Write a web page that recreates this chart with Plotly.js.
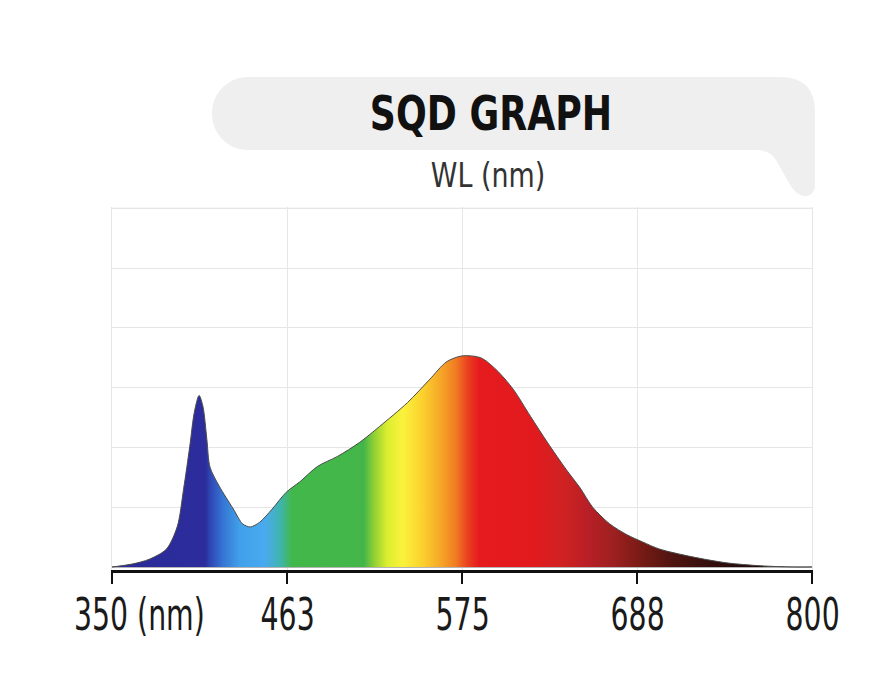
<!DOCTYPE html>
<html>
<head>
<meta charset="utf-8">
<script src="https://cdn.plot.ly/plotly-3.0.1.min.js"></script>
<style>html,body{margin:0;padding:0;background:#fff;}#chart{width:870px;height:700px;}</style>
</head>
<body>
<div id="chart"></div>
<script>
// ---- data ----
const wavelength = [350, 363, 374, 385, 392, 396, 400, 403, 406, 408.5, 411, 413, 419, 428, 434, 439, 445, 453, 462, 471, 482, 495, 509, 522, 540, 554, 565, 575, 587, 597, 608, 619, 630, 642, 651, 659, 670, 681, 691, 702, 723, 745, 767, 788, 800];
const intensity  = [0, 0.05, 0.13, 0.30, 0.68, 1.30, 2.02, 2.60, 2.87, 2.68, 2.13, 1.67, 1.35, 0.97, 0.72, 0.67, 0.75, 0.97, 1.25, 1.43, 1.68, 1.85, 2.08, 2.35, 2.75, 3.13, 3.43, 3.53, 3.50, 3.30, 2.97, 2.52, 2.08, 1.63, 1.32, 1.00, 0.72, 0.54, 0.42, 0.30, 0.17, 0.07, 0.02, 0.00, 0];
const tickValues = [350, 462.5, 575, 687.5, 800];
const tickLabels = ['350 (nm)', '463', '575', '688', '800'];
const gridTop = 6;
const chartTitle = 'SQD GRAPH';
const chartSubtitle = 'WL (nm)';
// spectrum colours by wavelength (nm)
const specNm = [350, 410, 413, 421, 432, 448, 458, 466, 512, 519, 527, 537, 550, 562, 571, 579, 586, 620, 640, 656, 672, 692, 712, 745, 800];
const specCol = ['#2b2a98', '#2c2c9c', '#2f45b4', '#3574d2', '#40a0ea', '#4aaaf0', '#3fb4b0', '#42b84a', '#44b649', '#96d232', '#dcee30', '#fbf23c', '#fbd02d', '#f6a428', '#f07c22', '#ea3e20', '#e51b1e', '#e21a1e', '#d02222', '#b81f26', '#9e2020', '#741a14', '#4c1410', '#2a0c0c', '#140808'];

const NM0 = 350, NM1 = 800;
const colorscale = specNm.map((n, i) => [(n - NM0) / (NM1 - NM0), specCol[i]]);

// plot area in pixels
const L = 112, R = 812, T = 207, B = 570, W = 870, H = 700;
const px2x = p => (p - L) / (R - L);
const py2y = p => (B - p) / (B - T);

const cond = '"DejaVu Sans Condensed", "DejaVu Sans", sans-serif';

// title box shape (pixel path converted to paper coords)
function P(x, y) { return px2x(x).toFixed(5) + ',' + py2y(y).toFixed(5); }
const boxPath = 'M' + P(248, 77) + ' L' + P(780, 77) + ' Q' + P(815, 77) + ' ' + P(815, 112) +
  ' L' + P(815, 184) + ' Q' + P(815, 197) + ' ' + P(803, 196) + ' Q' + P(795, 194) + ' ' + P(789, 183) +
  ' L' + P(776, 160) + ' Q' + P(770, 150) + ' ' + P(756, 150) + ' L' + P(248, 150) +
  ' C' + P(228, 150) + ' ' + P(212, 134) + ' ' + P(212, 113.5) + ' C' + P(212, 93) + ' ' + P(228, 77) + ' ' + P(248, 77) + ' Z';

const traces = [
  {
    type: 'scatter', mode: 'lines', x: wavelength, y: intensity,
    line: {shape: 'spline', smoothing: 0.8, color: '#4a4a4a', width: 1},
    fill: 'tozeroy',
    fillgradient: {type: 'horizontal', start: NM0, stop: NM1, colorscale: colorscale},
    hoverinfo: 'skip', showlegend: false
  },
  {
    type: 'scatter', mode: 'markers', x: tickValues, y: tickValues.map(() => -0.21),
    marker: {size: 4.5, color: '#111'}, cliponaxis: false, hoverinfo: 'skip', showlegend: false
  }
];

// tick labels drawn as annotations so they can be condensed
const tickAnns = tickValues.map((v, i) => (i === 0 ? {
    text: tickLabels[i], xref: 'paper', x: px2x(139), xanchor: 'center'
  } : {
    text: tickLabels[i], xref: 'x', x: v, xanchor: 'center'
  })).map(a => Object.assign(a, {
    yref: 'paper', y: py2y(614), yanchor: 'middle', showarrow: false,
    font: {family: cond, size: 45, color: '#1a1a1a'}
  }));

const layout = {
  width: W, height: H,
  margin: {l: L, r: W - R, t: T, b: H - B},
  paper_bgcolor: '#ffffff', plot_bgcolor: '#ffffff',
  showlegend: false,
  title: {
    text: '<b>' + chartTitle + '</b>',
    font: {family: cond, size: 48, color: '#111111'},
    x: 491 / W, xref: 'container', xanchor: 'center',
    y: 1 - 113 / H, yref: 'container', yanchor: 'middle'
  },
  xaxis: {
    range: [NM0, NM1], tickmode: 'array', tickvals: tickValues, showticklabels: false,
    showgrid: true, gridcolor: '#e6e6e6', gridwidth: 1,
    showline: true, linecolor: '#111111', linewidth: 3,
    ticks: 'outside', ticklen: 11, tickwidth: 2, tickcolor: '#111111',
    zeroline: false, fixedrange: true
  },
  yaxis: {
    range: [-0.05, 6.02], dtick: 1, tick0: 0,
    showgrid: true, gridcolor: '#e6e6e6', gridwidth: 1,
    showticklabels: false, ticks: '',
    zeroline: true, zerolinecolor: '#b5b5b5', zerolinewidth: 2,
    showline: true, linecolor: '#e6e6e6', linewidth: 1, mirror: true, fixedrange: true
  },
  shapes: [
    {type: 'path', xref: 'paper', yref: 'paper', path: boxPath, fillcolor: '#efefef', line: {width: 0}, layer: 'below'},
    {type: 'line', xref: 'paper', yref: 'y', x0: 0, x1: 1, y0: gridTop, y1: gridTop, line: {color: '#e6e6e6', width: 1}, layer: 'below'}
  ],
  annotations: [
    {text: chartSubtitle, xref: 'paper', yref: 'paper', x: px2x(488), y: py2y(175), xanchor: 'center', yanchor: 'middle',
     showarrow: false, font: {family: cond, size: 34, color: '#333333'}}
  ].concat(tickAnns)
};

function condense(el, s) {
  el.style.transformBox = 'fill-box';
  el.style.transformOrigin = 'center';
  el.style.transform = 'scaleX(' + s + ')';
}

Plotly.newPlot('chart', traces, layout, {displayModeBar: false, staticPlot: true}).then(gd => {
  gd.querySelectorAll('.annotation-text').forEach(t => {
    condense(t, t.textContent === chartSubtitle ? 0.88 : 0.70);
  });
  const tt = gd.querySelector('.gtitle');
  if (tt) condense(tt, 0.84);
});
</script>
</body>
</html>
